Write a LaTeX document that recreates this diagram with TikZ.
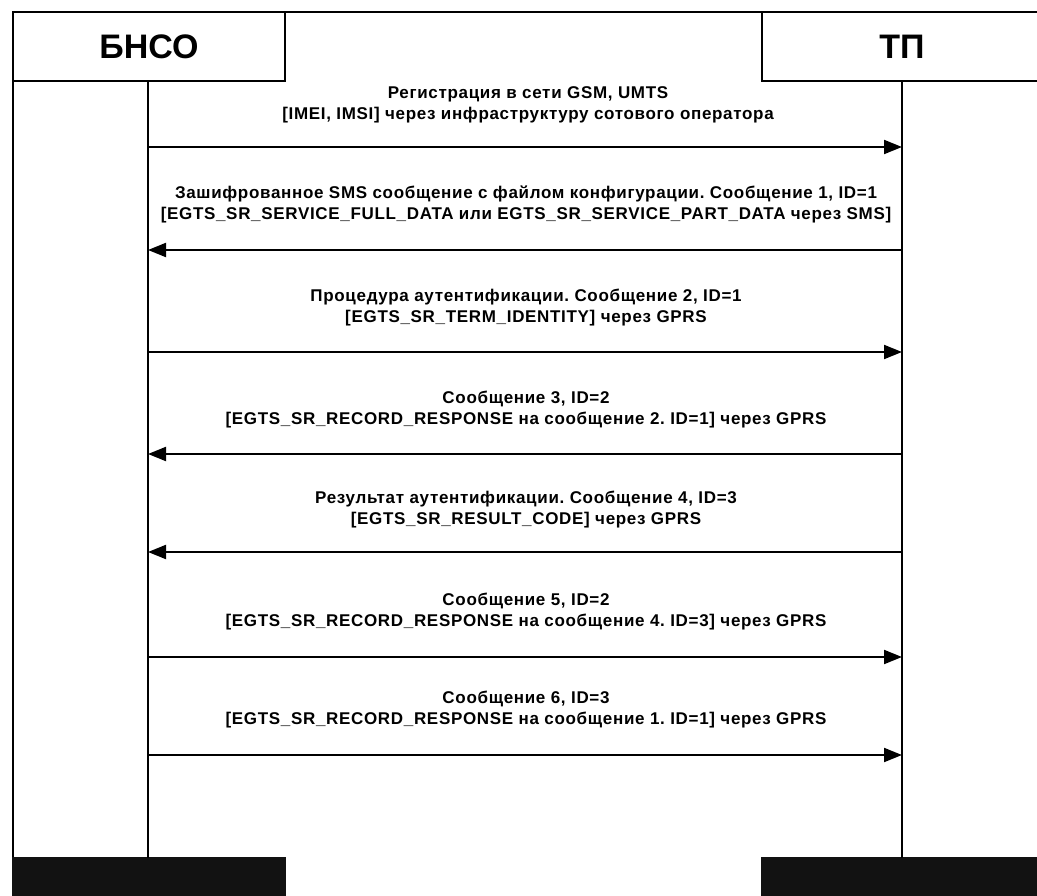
\documentclass[tikz,border=0pt]{standalone}
\usepackage{fontspec}
\setmainfont{Liberation Sans}
\usetikzlibrary{arrows.meta}
\frenchspacing
\tikzset{
  x=1pt, y=-1pt,
  frameline/.style={line width=2pt, black},
  actor/.style={draw, line width=2pt, rectangle, minimum width=272pt, minimum height=69pt, inner sep=0pt, font=\bfseries\fontsize{34}{40}\selectfont},
  lifeline/.style={line width=2pt},
  msg/.style={line width=2pt, -{Triangle[length=18pt,width=14pt]}},
  msglabel/.style={align=center, inner sep=0pt, font=\bfseries\fontsize{17}{21}\selectfont\addfontfeature{LetterSpace=4}\frenchspacing},
  bar/.style={fill=black!93, draw=none}
}
\begin{document}
\begin{tikzpicture}
\useasboundingbox (0,0) rectangle (1037,896);
\fill[white] (0,0) rectangle (1037,896);
% outer frame
\draw[frameline] (13,857) -- (13,12) -- (1040,12);
% actors
\node[actor] (bnso) at (149,46.5) {БНСО};
\node[actor, minimum width=280pt] (tp) at (902,46.5) {ТП};
% bottom bars
\fill[bar] (12,857) rectangle (286,898);
\fill[bar] (761,857) rectangle (1040,898);
% lifelines
\coordinate (Lb) at (148,858);
\coordinate (Rb) at (902,858);
\draw[lifeline] (bnso.south -| Lb) -- (Lb);
\draw[lifeline] (tp.south -| Rb) -- (Rb);
% messages
\coordinate (L1) at (148,147); \coordinate (R1) at (902,147);
\coordinate (L2) at (148,250); \coordinate (R2) at (902,250);
\coordinate (L3) at (148,352); \coordinate (R3) at (902,352);
\coordinate (L4) at (148,454); \coordinate (R4) at (902,454);
\coordinate (L5) at (148,552); \coordinate (R5) at (902,552);
\coordinate (L6) at (148,657); \coordinate (R6) at (902,657);
\coordinate (L7) at (148,755); \coordinate (R7) at (902,755);
\draw[msg] (L1) -- (R1);
\draw[msg] (R2) -- (L2);
\draw[msg] (L3) -- (R3);
\draw[msg] (R4) -- (L4);
\draw[msg] (R5) -- (L5);
\draw[msg] (L6) -- (R6);
\draw[msg] (L7) -- (R7);
\node[msglabel] (t1) at (528,105) {Регистрация в сети GSM, UMTS\\{}[IMEI, IMSI] через инфраструктуру сотового оператора};
\node[msglabel] (t2) at (526,204) {Зашифрованное SMS сообщение с файлом конфигурации. Сообщение 1, ID=1\\{}[EGTS\_SR\_SERVICE\_FULL\_DATA или EGTS\_SR\_SERVICE\_PART\_DATA через SMS]};
\node[msglabel] (t3) at (526,308) {Процедура аутентификации. Сообщение 2, ID=1\\{}[EGTS\_SR\_TERM\_IDENTITY] через GPRS};
\node[msglabel] (t4) at (526,410) {Сообщение 3, ID=2\\{}[EGTS\_SR\_RECORD\_RESPONSE на сообщение 2. ID=1] через GPRS};
\node[msglabel] (t5) at (526,510) {Результат аутентификации. Сообщение 4, ID=3\\{}[EGTS\_SR\_RESULT\_CODE] через GPRS};
\node[msglabel] (t6) at (526,612) {Сообщение 5, ID=2\\{}[EGTS\_SR\_RECORD\_RESPONSE на сообщение 4. ID=3] через GPRS};
\node[msglabel] (t7) at (526,710) {Сообщение 6, ID=3\\{}[EGTS\_SR\_RECORD\_RESPONSE на сообщение 1. ID=1] через GPRS};
\end{tikzpicture}
\end{document}
